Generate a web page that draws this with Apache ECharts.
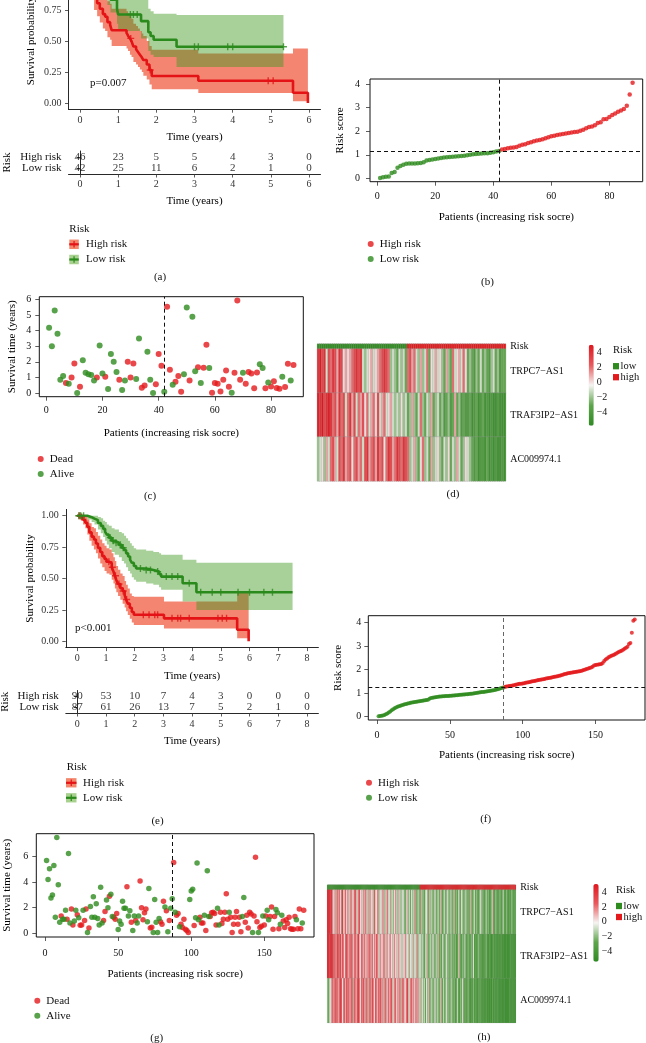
<!DOCTYPE html>
<html><head><meta charset="utf-8">
<script src="https://cdn.jsdelivr.net/npm/echarts@6.0.0/dist/echarts.min.js"></script>
<style>html,body{margin:0;padding:0;background:#fff}#c{width:646px;height:1043px}</style>
</head><body><div id="c"></div>
<script>
// ---------------- DATA ----------------
// Panel (a): Kaplan-Meier, training set
const kmA_ticks = [0,1,2,3,4,5,6];
const kmA_highT  = [0,0.1,0.2,0.28,0.37,0.45,0.52,0.6,0.66,0.72,0.79,0.83,1.22,1.26,1.31,1.35,1.4,1.47,1.52,1.57,1.62,1.66,1.75,1.82,1.88,3.1,5.58,5.97];
const kmA_highS  = [1,0.978,0.957,0.913,0.848,0.804,0.76,0.717,0.695,0.652,0.63,0.587,0.565,0.543,0.521,0.499,0.456,0.434,0.412,0.39,0.368,0.347,0.31,0.266,0.218,0.18,0.083,0];
const kmA_highLo = [1,0.94,0.9,0.84,0.75,0.7,0.65,0.6,0.58,0.53,0.51,0.46,0.44,0.42,0.39,0.37,0.33,0.31,0.29,0.27,0.25,0.22,0.19,0.15,0.11,0.08,0.015,0];
const kmA_highUp = [1,1,1,1,0.97,0.94,0.91,0.87,0.85,0.82,0.8,0.76,0.74,0.72,0.7,0.68,0.64,0.62,0.6,0.58,0.56,0.54,0.5,0.46,0.43,0.40,0.44,0.44];
const kmA_lowT   = [0,0.3,0.5,0.62,0.72,0.8,0.97,1.0,1.6,1.79,1.85,1.93,2.53,5.33];
const kmA_lowS   = [1,0.976,0.952,0.929,0.881,0.833,0.762,0.714,0.66,0.57,0.54,0.51,0.454,0.454];
const kmA_lowUp  = [1,1,1,1,0.99,0.96,0.91,0.87,0.83,0.76,0.74,0.72,0.71,0.71];
const kmA_lowLo  = [1,0.93,0.89,0.85,0.79,0.73,0.64,0.58,0.52,0.42,0.39,0.37,0.29,0.29];
const kmA_highCens = [1.33,1.84,4.93,5.06];
const kmA_lowCens  = [1.32,1.4,1.5,3.0,3.1,3.87,4.0,5.33];
const riskA_high = [46,23,5,5,4,3,0];
const riskA_low  = [42,25,11,6,2,1,0];
const kmA_p = 'p=0.007';

// Panel (b): risk score, training set
const riskCutA = 42;
const riskThrA = 1.16;
const riskScoreA = [0.02,0.05,0.07,0.08,0.23,0.27,0.45,0.53,0.58,0.62,
 0.63,0.63,0.63,0.64,0.65,0.68,0.76,0.78,0.80,0.82,
 0.84,0.86,0.88,0.90,0.91,0.92,0.93,0.94,0.95,0.96,
 0.98,1.00,1.02,1.03,1.04,1.05,1.06,1.07,1.09,1.11,
 1.14,1.16,
 1.22,1.25,1.28,1.30,1.31,1.33,1.38,
 1.42,1.45,1.50,1.53,1.57,1.60,1.63,1.66,1.70,1.74,
 1.78,1.81,1.84,1.86,1.88,1.90,1.92,1.94,1.96,1.98,
 2.02,2.06,2.12,2.18,2.20,2.25,2.35,2.38,2.50,2.52,
 2.60,2.68,2.75,2.82,2.88,2.94,3.08,3.55,4.05];

// Panel (c): survival time / status, training set (1 = dead)
const survTimeA = [4.2,3.0,5.3,3.8,0.85,1.1,0.65,0.6,1.0,1.9,
 0.0,0.4,2.1,1.3,1.2,1.15,0.8,1.0,3.05,1.25,
 1.05,0.25,2.5,2.0,1.35,0.85,0.2,0.8,2.0,1.0,
 1.9,0.9,3.5,0.33,0.48,2.65,0.85,0.0,0.57,2.5,
 1.75,0.08,5.55,1.5,0.53,0.72,1.1,0.08,1.2,5.5,
 0.8,4.9,1.4,1.65,0.65,1.62,3.1,1.6,0.02,0.65,
 0.6,0.1,0.85,1.45,0.4,0.02,1.3,5.95,0.85,1.3,
 0.6,1.35,1.25,0.3,1.32,1.85,1.6,0.3,0.68,0.42,
 0.75,0.32,0.28,1.05,0.38,1.88,0.8,1.8];
const survStatusA = [0,0,0,0,0,0,1,0,1,1,
 0,1,0,0,0,0,0,1,0,0,
 1,0,0,0,0,1,0,0,1,1,
 1,0,0,1,1,0,0,0,1,1,
 1,0,1,1,0,1,1,1,0,0,
 1,0,0,1,0,1,1,0,1,1,
 1,1,1,1,1,0,1,1,1,0,
 1,1,1,1,1,0,0,1,0,1,
 1,1,1,0,1,1,0,1];

// Panel (d): heatmap, training set
const genes = ['TRPC7\u2212AS1','TRAF3IP2\u2212AS1','AC009974.1'];
const hmA_TRPC7 = [4,5,3,4,-1,3,2,4,3,1, 4,3,0,1,0,1,2,3,4,3, 4,-1,-2,-1,0,1,-1,0,1,2, 3,4,3,2,-2,-1,-2,-3,-1,-2,
 -1,-3,2,3,1,2,-1,-2,1,-2, -1,2,-3,0,-1,1,-1,0,-2,-3, 1,-2,-3,2,-1,0,1,-1,2,0, -3,-2,-3,-4,-2,-3,-1,-3,-2,-3, -4,-2,-1,-3,-2,-4,-3,-3];
const hmA_TRAF3IP2 = [5,4,5,3,4,5,4,2,3,1, 4,2,3,-1,2,4,1,3,-1,2, 1,3,0,2,-1,1,2,0,3,-1, 1,2,-1,0,1,-1,-2,-1,-2,0,
 -2,-1,-3,-2,1,-2,-3,-1,2,-2, -3,-1,-2,1,-3,-2,-1,-3,-2,-4, -3,-2,-4,-3,1,-3,-2,-4,-3,-4, -4,-3,-5,-4,-3,-5,-4,-3,-5,-4, -5,-4,-5,-5,-4,-5,-5,-5];
const hmA_AC009974 = [-2,-1,0,-2,1,-1,2,3,1,-1, 3,2,4,1,2,3,0,2,3,1, 2,-1,3,4,1,2,3,1,4,2, 3,0,2,4,3,1,2,4,3,2,
 4,3,2,-2,-1,1,-2,-3,0,2, -2,-1,-3,1,-2,-1,0,-2,-3,-1, -2,0,-3,-1,-2,1,-1,-3,-2,0, -1,-2,-3,-4,-3,-5,-4,-4,-5,-3, -5,-4,-5,-4,-5,-5,-4,-5];
const hmA_range = [-5.73, 4.96];
const hmA_barTicks = [4,2,0,-2,-4];

// Panel (e): Kaplan-Meier, entire set
const kmE_ticks = [0,1,2,3,4,5,6,7,8];
const kmE_highT  = [0,0.1,0.2,0.28,0.35,0.42,0.5,0.58,0.65,0.72,0.8,0.87,0.95,1.02,1.12,1.2,1.26,1.31,1.36,1.42,1.5,1.58,1.65,1.7,1.76,1.83,1.9,1.97,3.02,5.57,5.97];
const kmE_highS  = [1,0.989,0.967,0.944,0.911,0.867,0.833,0.811,0.778,0.744,0.711,0.678,0.656,0.633,0.622,0.589,0.556,0.522,0.489,0.456,0.422,0.4,0.367,0.333,0.3,0.267,0.233,0.211,0.183,0.092,0];
const kmE_highUp = [1,1,1,0.99,0.97,0.94,0.91,0.9,0.87,0.84,0.81,0.78,0.76,0.74,0.73,0.7,0.67,0.64,0.6,0.57,0.54,0.52,0.48,0.45,0.42,0.38,0.36,0.355,0.316,0.40,0.40];
const kmE_highLo = [1,0.97,0.93,0.9,0.85,0.8,0.76,0.73,0.7,0.66,0.62,0.59,0.56,0.54,0.53,0.49,0.46,0.42,0.39,0.36,0.33,0.3,0.27,0.24,0.21,0.18,0.15,0.13,0.103,0.024,0];
const kmE_lowT   = [0,0.35,0.5,0.6,0.72,0.82,0.9,0.97,1.03,1.1,1.2,1.3,1.45,1.55,1.63,1.7,1.77,1.84,1.9,1.97,2.05,2.4,2.65,2.85,2.92,3.67,4.15,7.5];
const kmE_lowS   = [1,0.988,0.977,0.965,0.942,0.919,0.895,0.872,0.849,0.825,0.8,0.785,0.768,0.745,0.727,0.7,0.675,0.65,0.625,0.6,0.58,0.568,0.555,0.535,0.515,0.462,0.39,0.39];
const kmE_lowUp  = [1,1,1,1,0.99,0.98,0.96,0.95,0.93,0.92,0.9,0.89,0.87,0.86,0.84,0.82,0.8,0.78,0.76,0.74,0.73,0.72,0.71,0.70,0.69,0.65,0.626,0.626];
const kmE_lowLo  = [1,0.97,0.95,0.93,0.89,0.86,0.83,0.8,0.77,0.74,0.71,0.69,0.67,0.64,0.62,0.59,0.56,0.54,0.51,0.49,0.475,0.46,0.45,0.43,0.41,0.316,0.25,0.25];
const kmE_highCens = [0.08,0.15,1.1,1.22,1.33,1.45,1.6,1.72,2.3,2.5,2.7,2.8,3.3,3.5,3.6,3.9,4.9,5.05,5.2];
const kmE_lowCens  = [0.05,0.12,0.22,1.15,1.25,1.35,1.5,1.6,2.2,2.4,2.55,2.8,3.1,3.3,3.5,3.9,4.3,4.7,5.0,5.6,6.0,6.5,6.8];
const riskE_high = [90,53,10,7,4,3,0,0,0];
const riskE_low  = [87,61,26,13,7,5,2,1,0];
const kmE_p = 'p<0.001';

// Panel (f): risk score, entire set
const riskCutE = 87;
const riskThrE = 1.26;
const riskScoreE = [0.02,0.03,0.04,0.05,0.07,0.10,0.13,0.17,0.22,0.27,
 0.31,0.35,0.39,0.42,0.44,0.46,0.48,0.50,0.52,0.54,
 0.56,0.57,0.59,0.60,0.61,0.62,0.63,0.64,0.65,0.66,
 0.67,0.68,0.69,0.70,0.72,0.76,0.79,0.80,0.81,0.82,
 0.83,0.84,0.85,0.85,0.86,0.86,0.87,0.87,0.88,0.89,
 0.89,0.90,0.90,0.91,0.91,0.92,0.93,0.93,0.94,0.94,
 0.95,0.95,0.96,0.97,0.97,0.98,0.99,1.00,1.01,1.02,
 1.03,1.04,1.05,1.06,1.07,1.08,1.09,1.10,1.11,1.12,
 1.13,1.15,1.16,1.18,1.20,1.22,1.24,
 1.27,1.28,1.29,1.30,1.31,1.32,1.33,1.35,1.36,1.38,
 1.39,1.40,1.41,1.42,1.44,1.45,1.46,1.47,1.49,1.50,
 1.51,1.52,1.54,1.55,1.56,1.58,1.59,1.60,1.62,1.63,
 1.64,1.65,1.66,1.68,1.69,1.70,1.71,1.73,1.75,1.77,
 1.79,1.81,1.82,1.84,1.85,1.86,1.87,1.88,1.89,1.90,
 1.92,1.93,1.94,1.96,1.98,2.00,2.02,2.04,2.06,2.08,
 2.12,2.17,2.19,2.20,2.21,2.22,2.23,2.28,2.36,2.42,
 2.47,2.52,2.55,2.58,2.61,2.64,2.67,2.71,2.74,2.77,
 2.80,2.84,2.88,2.92,2.97,3.08,3.12,3.56,4.07,4.12];

// Panel (g): survival time / status, entire set (1 = dead)
const survTimeE = [5.7,4.2,5.05,2.75,3.0,5.3,1.25,7.5,3.8,0.85,
 1.35,1.1,1.1,1.8,1.1,6.25,0.8,1.9,0.65,0.95,
 1.8,1.45,1.2,0.62,0.65,1.8,1.0,1.9,0.05,0.4,
 2.1,1.25,2.85,1.25,2.3,1.15,0.65,3.6,0.8,1.0,
 1.7,2.6,2.0,2.9,3.05,1.3,1.25,1.1,1.55,0.28,
 0.95,0.7,2.5,1.95,1.95,3.65,1.35,1.75,0.85,0.2,
 1.35,1.0,0.8,1.35,4.1,2.0,1.05,1.6,1.9,0.9,
 3.5,0.4,0.47,0.05,2.65,0.85,0.05,1.15,0.9,0.7,
 2.5,2.05,1.75,0.12,1.0,1.95,2.7,5.55,1.65,1.4,
 1.55,0.5,0.7,0.45,1.1,0.3,0.2,0.05,2.65,3.3,
 3.45,0.6,1.2,5.5,1.05,1.25,0.8,0.8,1.4,0.2,
 4.9,1.3,1.3,1.6,1.65,1.55,0.65,1.95,0.65,1.65,
 0.75,1.1,1.65,3.1,1.1,1.65,1.25,0.05,0.7,1.25,
 1.7,0.7,1.25,0.12,1.3,2.8,0.85,1.4,0.4,1.65,
 1.5,0.05,1.35,5.95,0.9,0.05,0.45,0.55,1.35,0.65,
 1.35,1.8,1.05,1.3,2.05,0.3,1.3,1.85,1.6,0.35,
 0.7,1.4,0.95,0.45,1.05,0.75,1.25,0.35,0.3,0.3,
 1.3,1.05,0.35,1.9,0.35,0.8,1.8];
const survStatusE = [0,0,0,0,0,0,0,0,0,0,
 1,0,0,0,1,0,0,1,1,0,
 0,1,0,1,1,0,1,1,0,1,
 0,0,0,0,0,0,0,0,0,1,
 1,0,0,1,0,0,1,1,1,0,
 0,0,0,0,0,1,0,0,1,0,
 0,1,0,0,1,1,1,1,1,0,
 0,1,1,0,0,0,0,0,1,1,
 1,0,1,0,1,0,0,1,0,1,
 1,0,1,1,1,1,1,1,0,0,
 0,1,0,0,0,1,1,1,0,1,
 0,0,1,1,1,1,1,0,0,1,
 1,1,1,1,1,0,1,1,1,1,
 1,1,1,1,0,0,1,1,1,1,
 1,0,1,1,1,0,1,1,0,1,
 1,0,0,1,1,1,1,0,0,1,
 0,0,1,1,1,1,1,1,1,1,
 1,0,1,1,1,0,1];

// Panel (h): heatmap, entire set
const hmE_TRPC7 = [5,5,5,4,5,1,0,2,-1,3, 1,3,0,2,4,-1,1,3,0,2, 1,-1,3,1,0,2,4,1,-1,2, 3,0,1,-1,2,1,3,0,-2,1,
 2,0,-1,1,3,-1,0,2,-2,1, 0,-1,2,1,-2,0,3,-1,0,-2, 1,-1,-2,0,2,-1,-2,1,-1,-2, -1,0,-2,-3,-1,1,-2,-1,-3,0,
 -2,-1,2,-2,-3,-1,-2,-3,1,-2, -2,-3,-1,0,-2,-3,1,-2,-1,-3, -2,0,-3,-2,-1,-3,1,-2,-3,-2, -1,-3,-2,0,-3,-2,-1,-3,-2,1,
 -3,-2,-3,-1,-2,-3,0,-2,-3,-2, -1,-3,-2,-4,1,-2,-3,-2,-1,-3, -2,-3,-4,-2,0,-3,-2,-4,-3,-1, -3,-2,-4,-3,-2,1,-3,-4,-2,-3,
 -4,-3,-2,-4,-3,-1,-3,-4,-2,-3, -4,-3,-4,-2,-3,-4,-3];
const hmE_TRAF3IP2 = [5,5,4,5,5,4,2,3,1,4, 3,2,4,1,3,2,0,3,4,2, 1,3,2,4,0,2,3,1,2,4, 1,0,3,2,1,3,0,2,1,3,
 2,1,3,0,2,1,3,2,-1,1, 2,0,1,3,1,-1,2,0,1,2, 0,1,-1,2,0,1,-1,2,0,-1, 1,-1,0,2,-1,0,1,-2,0,-1,
 1,-2,0,-1,2,-2,-1,0,-2,-1, -2,-3,-1,1,-2,-3,-2,-1,-3,0, -2,-3,-1,-2,1,-3,-2,-3,-1,-2, -3,-2,0,-3,-2,-4,-1,-3,-2,-3,
 -2,-4,-3,1,-2,-3,-4,-2,-3,-1, -3,-4,-2,-3,-4,-2,-3,0,-4,-3, -4,-3,-2,-4,-3,-4,-5,-3,-4,-2, -4,-5,-3,-4,-5,-4,-3,-5,-4,-5,
 -5,-4,-5,-3,-5,-4,-5,-5,-4,-5, -5,-5,-4,-5,-5,-5,-5];
const hmE_AC009974 = [-2,-3,-1,0,2,3,1,4,2,3, 1,2,4,3,0,2,3,1,4,2, 3,1,2,4,-1,3,2,1,3,4, 2,0,3,2,4,1,2,3,-1,2,
 3,1,4,2,0,3,2,1,3,2, 4,1,2,-1,3,2,0,3,1,2, 3,1,-1,2,3,0,2,1,3,-1, 2,3,1,0,2,4,1,-1,2,3,
 1,2,0,3,1,2,-1,1,-2,0, -2,-1,-3,0,-2,1,-3,-2,-1,-3, -2,0,-3,-1,-2,-3,1,-2,-3,-1, -3,-2,0,-3,-2,-4,-1,-2,-3,-2,
 -4,-3,-1,-3,-4,-2,-3,0,-4,-3, -3,-4,-2,-3,-5,-3,-4,-2,-4,-3, -4,-5,-3,-4,-3,-5,-4,-4,-5,-3, -5,-4,-5,-4,-5,-3,-5,-4,-5,-5,
 -4,-5,-5,-4,-5,-5,-4,-5,-5,-5, -5,-4,-5,-5,-5,-5,-5];
const hmE_range = [-5.46, 5.13];
const hmE_barTicks = [4,2,0,-2,-4];

// ---------------- STYLE ----------------
const FONT = '"Liberation Serif","Times New Roman","DejaVu Serif",serif';
const C_RED = '#E3191C', C_GREEN = '#2E8B1E';
const LINE_RED = '#E41316', LINE_GREEN = '#2B8A1C';
const BAND_RED = '#EE3B1A', BAND_GREEN = '#3E9A1E';
const KEY_RED = '#F4866C', KEY_GREEN = '#A8D08E';
const HM_COLORS = ['#2F8A22', '#5DA54A', '#F6F4F2', '#E9585C', '#E0161E'];

// ---------------- HELPERS ----------------
function grid(l, t, w, h, border) {
  return {left: l, top: t, width: w, height: h, containLabel: false, outerBoundsMode: 'none',
    show: !!border, borderColor: '#111', borderWidth: border ? 1 : 0, backgroundColor: 'transparent'};
}
function vAxis(gi, o) {
  return {type: 'value', gridIndex: gi, min: o.min, max: o.max, position: o.pos,
    splitLine: {show: false},
    axisLine: {show: !!o.line, onZero: false, lineStyle: {color: '#111', width: 0.9}},
    axisTick: {show: true, length: o.tickLen || 4, customValues: o.ticks, lineStyle: {color: '#333', width: 0.8}},
    axisLabel: {customValues: o.ticks, margin: o.margin, fontSize: 10, fontFamily: FONT, color: o.lc || '#111', formatter: o.fmt},
    name: o.name, nameLocation: 'middle', nameGap: o.gap, nameMoveOverlap: false,
    nameTextStyle: {fontSize: 11, fontFamily: FONT, color: '#000'}};
}
function bandSeries(ai, T, lo, up, color, opacity) {
  return {type: 'custom', xAxisIndex: ai, yAxisIndex: ai, silent: true, z: 1,
    data: T.map((x, i) => [x, lo[i], up[i]]),
    encode: {x: 0, y: [1, 2]},
    renderItem(params, api) {
      if (params.dataIndexInside !== 0) return null;
      const n = params.dataInsideLength;
      const top = [], bot = [];
      for (let i = 0; i < n; i++) {
        const x = api.value(0, i), l = api.value(1, i), u = api.value(2, i);
        const xn = i < n - 1 ? api.value(0, i + 1) : x;
        top.push(api.coord([x, u]), api.coord([xn, u]));
        bot.push(api.coord([x, l]), api.coord([xn, l]));
      }
      return {type: 'polygon', shape: {points: top.concat(bot.reverse())}, style: {fill: color, opacity: opacity}};
    }};
}
function kmLine(ai, T, S, color) {
  return {type: 'line', xAxisIndex: ai, yAxisIndex: ai, step: 'end', symbol: 'none', silent: true, z: 3,
    data: T.map((x, i) => [x, S[i]]), lineStyle: {color: color, width: 2.6}};
}
function survAt(t, T, S) { let v = S[0]; for (let i = 0; i < T.length; i++) if (T[i] <= t) v = S[i]; return v; }
const PLUS = 'path://M4,0H6V4H10V6H6V10H4V6H0V4H4Z';
function censor(ai, C, T, S, color) {
  return {type: 'scatter', xAxisIndex: ai, yAxisIndex: ai, symbol: PLUS, symbolSize: 7, silent: true, z: 4,
    itemStyle: {color: color}, data: C.map(t => [t, survAt(t, T, S)])};
}
function tableSeries(ai, ticks, vals, cat) {
  return {type: 'scatter', xAxisIndex: ai, yAxisIndex: ai, symbolSize: 1, silent: true,
    itemStyle: {color: 'rgba(0,0,0,0)'},
    data: ticks.map((x, i) => [x, cat, vals[i]]),
    label: {show: true, position: 'inside', formatter: p => String(p.value[2]), fontSize: 11, fontFamily: FONT, color: '#000'}};
}
function dash(color) { return {type: [4, 3], color: color || '#000', width: 1}; }

// ---------------- LAYOUT ----------------
const grids = [
  grid(68.5, -27.2, 252, 136.4),      // 0 a KM
  grid(68.5, 151, 252, 23),           // 1 a table
  grid(370, 79, 272.7, 102.7, true),  // 2 b
  grid(39.3, 296.7, 264, 100, true),  // 3 c
  grid(317.3, 344, 188.4, 5),         // 4 d risk
  grid(317.3, 349, 188.4, 132),       // 5 d heat
  grid(588.7, 344.7, 5, 81),          // 6 d colorbar axis
  grid(65.8, 509.4, 252.6, 138.2),    // 7 e KM
  grid(65.8, 690.5, 252.6, 22.5),     // 8 e table
  grid(368.3, 615.7, 276.7, 104.3, true), // 9 f
  grid(36.3, 833.7, 277.7, 103.3, true),  // 10 g
  grid(327.3, 885, 188.4, 5),         // 11 h risk
  grid(327.3, 890, 188.4, 132.7),     // 12 h heat
  grid(593.3, 884, 5.4, 77.7)         // 13 h colorbar axis
];

const colsA = riskScoreA.map((v, i) => String(i + 1));
const colsE = riskScoreE.map((v, i) => String(i + 1));
const hiddenCat = (gi, data) => ({type: 'category', gridIndex: gi, data: data, show: false});
const rowAxis = (gi, data, inv) => ({type: 'category', gridIndex: gi, data: data, inverse: !!inv, position: 'right',
  axisLine: {show: false}, axisTick: {show: false}, splitLine: {show: false},
  axisLabel: {interval: 0, margin: 4.5, fontSize: 10, fontFamily: FONT, color: '#111'}});
const barAxis = (gi, range, ticks) => ({type: 'value', gridIndex: gi, min: range[0], max: range[1], position: 'right',
  axisLine: {show: false}, axisTick: {show: false}, splitLine: {show: false},
  axisLabel: {customValues: ticks, margin: 3, fontSize: 10, fontFamily: FONT, color: '#111',
    formatter: v => String(v).replace('-', '\u2212')}});
const tableY = (gi, gap) => ({type: 'category', gridIndex: gi, data: ['High risk', 'Low risk'], inverse: true,
  axisLine: {show: true, lineStyle: {color: '#111', width: 0.9}},
  axisTick: {show: true, interval: 0, alignWithLabel: true, length: 3.5, lineStyle: {color: '#333'}},
  axisLabel: {interval: 0, margin: 7, fontSize: 11, fontFamily: FONT, color: '#111'},
  name: 'Risk', nameLocation: 'middle', nameGap: gap, nameMoveOverlap: false,
  nameTextStyle: {fontSize: 11, fontFamily: FONT, color: '#000'}});

const xAxes = [
  vAxis(0, {min: -0.3, max: 6.3, ticks: kmA_ticks, line: true, margin: 6.5, tickLen: 3.5, name: 'Time (years)', gap: 22.5, lc: '#333'}),
  vAxis(1, {min: -0.3, max: 6.3, ticks: kmA_ticks, line: true, margin: 5, tickLen: 3.5, name: 'Time (years)', gap: 22, lc: '#333'}),
  vAxis(2, {min: -2.48, max: 91.48, ticks: [0,20,40,60,80], margin: 10, name: 'Patients (increasing risk socre)', gap: 30}),
  vAxis(3, {min: -2.48, max: 91.48, ticks: [0,20,40,60,80], margin: 9, name: 'Patients (increasing risk socre)', gap: 31}),
  hiddenCat(4, colsA),
  hiddenCat(5, colsA),
  {type: 'value', gridIndex: 6, show: false},
  vAxis(7, {min: -0.4, max: 8.4, ticks: kmE_ticks, line: true, margin: 6, tickLen: 3.5, name: 'Time (years)', gap: 23, lc: '#333'}),
  vAxis(8, {min: -0.4, max: 8.4, ticks: kmE_ticks, line: true, margin: 6.5, tickLen: 3.5, name: 'Time (years)', gap: 23, lc: '#333'}),
  vAxis(9, {min: -6.04, max: 184.04, ticks: [0,50,100,150], margin: 10, name: 'Patients (increasing risk socre)', gap: 30}),
  vAxis(10, {min: -6.04, max: 184.04, ticks: [0,50,100,150], margin: 11, name: 'Patients (increasing risk socre)', gap: 32}),
  hiddenCat(11, colsE),
  hiddenCat(12, colsE),
  {type: 'value', gridIndex: 13, show: false}
];
const yAxes = [
  vAxis(0, {min: -0.05, max: 1.05, ticks: [0,0.25,0.5,0.75,1], line: true, margin: 7, tickLen: 3.5, fmt: v => v.toFixed(2), name: 'Survival probability', gap: 31.5, lc: '#333'}),
  tableY(1, 55.5),
  vAxis(2, {min: -0.14, max: 4.21, ticks: [0,1,2,3,4], margin: 10, name: 'Risk score', gap: 24}),
  vAxis(3, {min: -0.238, max: 6.188, ticks: [0,1,2,3,4,5,6], margin: 8, name: 'Survival time (years)', gap: 22}),
  rowAxis(4, ['Risk']),
  rowAxis(5, genes, true),
  barAxis(6, hmA_range, hmA_barTicks),
  vAxis(7, {min: -0.05, max: 1.05, ticks: [0,0.25,0.5,0.75,1], line: true, margin: 7, tickLen: 3.5, fmt: v => v.toFixed(2), name: 'Survival probability', gap: 30.5, lc: '#333'}),
  tableY(8, 55.5),
  vAxis(9, {min: -0.144, max: 4.284, ticks: [0,1,2,3,4], margin: 7, name: 'Risk score', gap: 25}),
  vAxis(10, {min: -0.3, max: 7.8, ticks: [0,2,4,6], margin: 8, name: 'Survival time (years)', gap: 24}),
  rowAxis(11, ['Risk']),
  rowAxis(12, genes, true),
  barAxis(13, hmE_range, hmE_barTicks)
];

// ---------------- SERIES ----------------
const series = [];
const idx = {};
function add(key, s) { idx[key] = series.length; series.push(s); }

// (a)
add('aBandH', bandSeries(0, kmA_highT, kmA_highLo, kmA_highUp, BAND_RED, 0.62));
add('aBandL', bandSeries(0, kmA_lowT, kmA_lowLo, kmA_lowUp, BAND_GREEN, 0.45));
add('aLineH', kmLine(0, kmA_highT, kmA_highS, LINE_RED));
add('aLineL', kmLine(0, kmA_lowT, kmA_lowS, LINE_GREEN));
add('aCenH', censor(0, kmA_highCens, kmA_highT, kmA_highS, LINE_RED));
add('aCenL', censor(0, kmA_lowCens, kmA_lowT, kmA_lowS, LINE_GREEN));
add('aTabH', tableSeries(1, kmA_ticks, riskA_high, 'High risk'));
add('aTabL', tableSeries(1, kmA_ticks, riskA_low, 'Low risk'));

// (b)
add('bLow', {type: 'scatter', name: 'Low risk [b]', xAxisIndex: 2, yAxisIndex: 2, symbolSize: 4.5, silent: true,
  itemStyle: {color: C_GREEN}, data: riskScoreA.slice(0, riskCutA).map((v, i) => [i + 1, v]),
  markLine: {silent: true, symbol: ['none', 'none'], label: {show: false}, lineStyle: dash('#111'),
    data: [{xAxis: riskCutA}, {yAxis: riskThrA}]}});
add('bHigh', {type: 'scatter', name: 'High risk [b]', xAxisIndex: 2, yAxisIndex: 2, symbolSize: 4.5, silent: true,
  itemStyle: {color: C_RED}, data: riskScoreA.slice(riskCutA).map((v, i) => [riskCutA + i + 1, v])});

// (c)
const ptsA = survTimeA.map((v, i) => [i + 1, v, survStatusA[i]]);
add('cDead', {type: 'scatter', name: 'Dead [c]', xAxisIndex: 3, yAxisIndex: 3, symbolSize: 6, silent: true,
  itemStyle: {color: C_RED}, data: ptsA.filter(d => d[2] === 1).map(d => [d[0], d[1]]),
  markLine: {silent: true, symbol: ['none', 'none'], label: {show: false}, lineStyle: dash('#111'), data: [{xAxis: riskCutA}]}});
add('cAlive', {type: 'scatter', name: 'Alive [c]', xAxisIndex: 3, yAxisIndex: 3, symbolSize: 6, silent: true,
  itemStyle: {color: C_GREEN}, data: ptsA.filter(d => d[2] === 0).map(d => [d[0], d[1]])});

// (d)
const heatA = [];
[hmA_TRPC7, hmA_TRAF3IP2, hmA_AC009974].forEach((row, r) => row.forEach((v, c) => heatA.push([c, r, v])));
add('dRisk', {type: 'heatmap', xAxisIndex: 4, yAxisIndex: 4, silent: true, emphasis: {disabled: true},
  itemStyle: {borderColor: '#999', borderWidth: 0.3},
  data: riskScoreA.map((v, c) => [c, 0, c < riskCutA ? 0 : 1])});
add('dHeat', {type: 'heatmap', xAxisIndex: 5, yAxisIndex: 5, silent: true, emphasis: {disabled: true},
  itemStyle: {borderColor: '#9a9a9a', borderWidth: 0.3}, data: heatA});
add('dBar', {type: 'scatter', xAxisIndex: 6, yAxisIndex: 6, data: []});

// (e)
add('eBandH', bandSeries(7, kmE_highT, kmE_highLo, kmE_highUp, BAND_RED, 0.62));
add('eBandL', bandSeries(7, kmE_lowT, kmE_lowLo, kmE_lowUp, BAND_GREEN, 0.45));
add('eLineH', kmLine(7, kmE_highT, kmE_highS, LINE_RED));
add('eLineL', kmLine(7, kmE_lowT, kmE_lowS, LINE_GREEN));
add('eCenH', censor(7, kmE_highCens, kmE_highT, kmE_highS, LINE_RED));
add('eCenL', censor(7, kmE_lowCens, kmE_lowT, kmE_lowS, LINE_GREEN));
add('eTabH', tableSeries(8, kmE_ticks, riskE_high, 'High risk'));
add('eTabL', tableSeries(8, kmE_ticks, riskE_low, 'Low risk'));

// (f)
add('fLow', {type: 'scatter', name: 'Low risk [f]', xAxisIndex: 9, yAxisIndex: 9, symbolSize: 4, silent: true,
  itemStyle: {color: C_GREEN}, data: riskScoreE.slice(0, riskCutE).map((v, i) => [i + 1, v]),
  markLine: {silent: true, symbol: ['none', 'none'], label: {show: false}, lineStyle: dash('#111'),
    data: [{yAxis: riskThrE}, {xAxis: riskCutE, lineStyle: dash('#666')}]}});
add('fHigh', {type: 'scatter', name: 'High risk [f]', xAxisIndex: 9, yAxisIndex: 9, symbolSize: 4, silent: true,
  itemStyle: {color: C_RED}, data: riskScoreE.slice(riskCutE).map((v, i) => [riskCutE + i + 1, v])});

// (g)
const ptsE = survTimeE.map((v, i) => [i + 1, v, survStatusE[i]]);
add('gDead', {type: 'scatter', name: 'Dead [g]', xAxisIndex: 10, yAxisIndex: 10, symbolSize: 5.5, silent: true,
  itemStyle: {color: C_RED}, data: ptsE.filter(d => d[2] === 1).map(d => [d[0], d[1]]),
  markLine: {silent: true, symbol: ['none', 'none'], label: {show: false}, lineStyle: dash('#111'), data: [{xAxis: riskCutE}]}});
add('gAlive', {type: 'scatter', name: 'Alive [g]', xAxisIndex: 10, yAxisIndex: 10, symbolSize: 5.5, silent: true,
  itemStyle: {color: C_GREEN}, data: ptsE.filter(d => d[2] === 0).map(d => [d[0], d[1]])});

// (h)
const heatE = [];
[hmE_TRPC7, hmE_TRAF3IP2, hmE_AC009974].forEach((row, r) => row.forEach((v, c) => heatE.push([c, r, v])));
add('hRisk', {type: 'heatmap', xAxisIndex: 11, yAxisIndex: 11, silent: true, emphasis: {disabled: true},
  itemStyle: {borderColor: '#999', borderWidth: 0.2},
  data: riskScoreE.map((v, c) => [c, 0, c < riskCutE ? 0 : 1])});
add('hHeat', {type: 'heatmap', xAxisIndex: 12, yAxisIndex: 12, silent: true, emphasis: {disabled: true},
  itemStyle: {borderColor: '#a0a0a0', borderWidth: 0.15}, data: heatE});
add('hBar', {type: 'scatter', xAxisIndex: 13, yAxisIndex: 13, data: []});

// ---------------- LEGENDS / VISUALMAPS ----------------
const legendBase = (left, top, names) => ({left: left, top: top, orient: 'vertical', padding: 0, itemGap: 0,
  itemWidth: 8, itemHeight: 6, icon: 'circle', selectedMode: false, data: names,
  formatter: n => n.replace(/\s*\[.\]$/, ''),
  textStyle: {fontSize: 11, fontFamily: FONT, color: '#111', lineHeight: 15}});
const legends = [
  legendBase(367.7, 236.5, ['High risk [b]', 'Low risk [b]']),
  legendBase(37.7, 451.5, ['Dead [c]', 'Alive [c]']),
  legendBase(366, 775.2, ['High risk [f]', 'Low risk [f]']),
  legendBase(34.3, 993.2, ['Dead [g]', 'Alive [g]'])
];
const contVM = (si, range, l, t, w, h) => ({type: 'continuous', seriesIndex: si, min: range[0], max: range[1],
  inRange: {color: HM_COLORS}, calculable: false, left: l, top: t, itemWidth: w, itemHeight: h,
  padding: 0, text: null, hoverLink: false, orient: 'vertical'});
const riskVM = (si, l, t) => ({type: 'piecewise', seriesIndex: si,
  pieces: [{value: 0, label: 'low', color: C_GREEN}, {value: 1, label: 'high', color: C_RED}],
  orient: 'vertical', inverse: true, align: 'left', left: l, top: t, itemWidth: 6, itemHeight: 6.3, itemGap: 0, textGap: 1.5,
  padding: 0, itemSymbol: 'rect', selectedMode: false, hoverLink: false,
  textStyle: {fontSize: 10.5, fontFamily: FONT, color: '#111', lineHeight: 6.3}});
const visualMaps = [
  contVM(idx.dHeat, hmA_range, 588.7, 344.7, 5, 81),
  riskVM(idx.dRisk, 613, 360.7),
  contVM(idx.hHeat, hmE_range, 593.3, 884, 5.4, 77.7),
  riskVM(idx.hRisk, 616, 900.5)
];

// ---------------- FREE TEXT / LEGEND KEYS ----------------
function txt(x, y, s, align, size) {
  return {type: 'text', x: x, y: y, silent: true,
    style: {text: s, fontSize: size || 11, fontFamily: FONT, fill: '#111', align: align || 'center', verticalAlign: 'middle'}};
}
function kmKey(x, yc, w, h, fill, line) {
  return [
    {type: 'rect', silent: true, shape: {x: x, y: yc - h / 2, width: w, height: h}, style: {fill: fill}},
    {type: 'line', silent: true, shape: {x1: x, y1: yc, x2: x + w, y2: yc}, style: {stroke: line, lineWidth: 2.2}},
    {type: 'line', silent: true, shape: {x1: x + w / 2, y1: yc - 3.2, x2: x + w / 2, y2: yc + 3.2}, style: {stroke: line, lineWidth: 1.2}}
  ];
}
const graphics = [
  txt(160, 277, '(a)'), txt(487.5, 282, '(b)'), txt(150, 496, '(c)'), txt(453, 494.5, '(d)'),
  txt(157.5, 820.7, '(e)'), txt(485.7, 819.3, '(f)'), txt(156.7, 1038.3, '(g)'), txt(484, 1037.3, '(h)'),
  txt(90, 83, kmA_p, 'left'), txt(75, 628.3, kmE_p, 'left'),
  txt(69.3, 229, 'Risk', 'left'), txt(86, 244.3, 'High risk', 'left'), txt(86, 259.5, 'Low risk', 'left'),
  ...kmKey(69.3, 244.3, 9.5, 9.5, KEY_RED, LINE_RED), ...kmKey(69.3, 259.5, 9.5, 9.5, KEY_GREEN, LINE_GREEN),
  txt(66.7, 766.7, 'Risk', 'left'), txt(83, 782.8, 'High risk', 'left'), txt(83, 797.8, 'Low risk', 'left'),
  ...kmKey(66, 782.8, 10.5, 9.3, KEY_RED, LINE_RED), ...kmKey(66, 797.8, 10.5, 9.3, KEY_GREEN, LINE_GREEN),
  txt(613, 350.7, 'Risk', 'left', 10.5), txt(616, 890, 'Risk', 'left', 10.5)
];

const option = {
  animation: false,
  backgroundColor: '#fff',
  textStyle: {fontFamily: FONT},
  grid: grids, xAxis: xAxes, yAxis: yAxes, series: series,
  legend: legends, visualMap: visualMaps,
  graphic: {elements: graphics}
};
const chart = echarts.init(document.getElementById('c'), null, {renderer: 'canvas', width: 646, height: 1043});
chart.setOption(option);
</script></body></html>
